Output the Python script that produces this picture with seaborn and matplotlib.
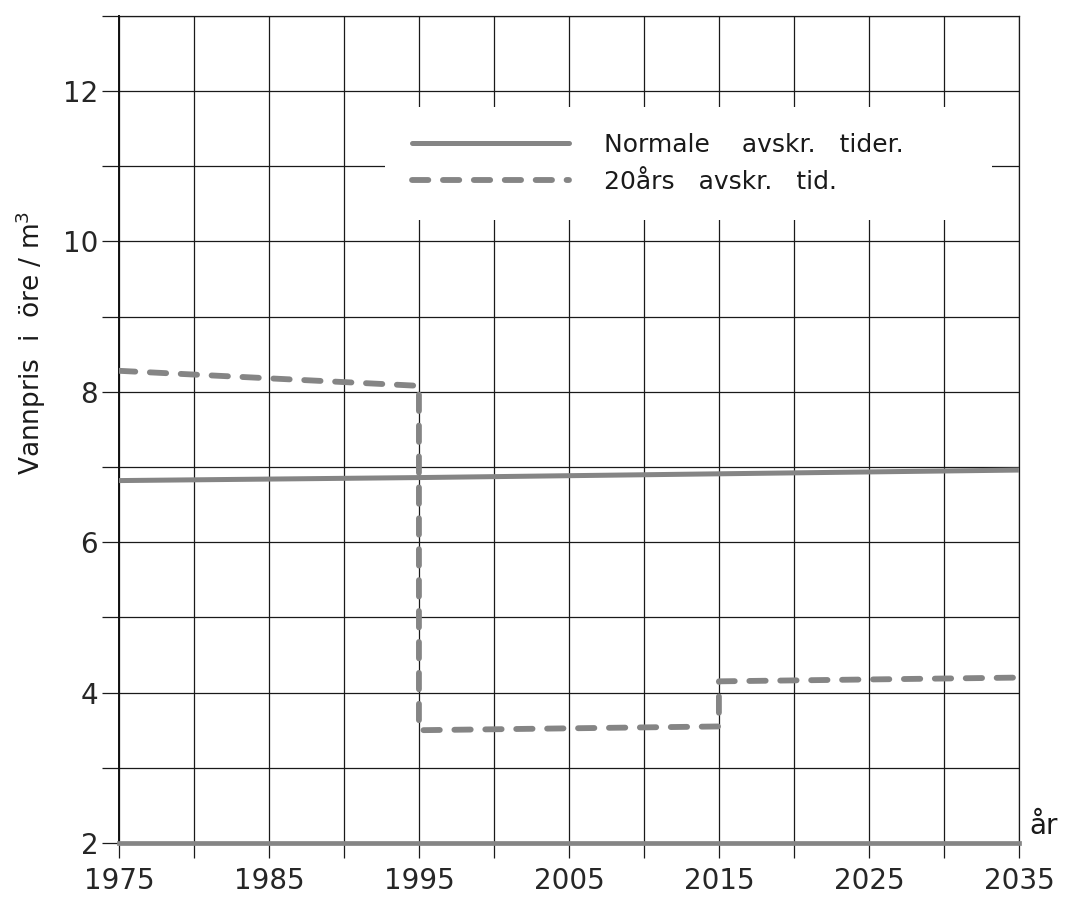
import matplotlib
matplotlib.use("Agg")
import matplotlib.pyplot as plt
import seaborn as sns
import pandas as pd

# ── data ────────────────────────────────────────────────────────────────────
normal_year  = [1975, 1995, 2015, 2035]
normal_price = [6.82, 6.86, 6.91, 6.96]

dep20_year  = [1975, 1995, 1995, 2015, 2015, 2035]
dep20_price = [8.28, 8.08, 3.50, 3.55, 4.15, 4.20]

label_normal = "Normale    avskr.   tider."
label_dep20  = "20års   avskr.   tid."

x_ticks  = list(range(1975, 2036, 5))
x_labels = [str(t) if (t - 1975) % 10 == 0 else "" for t in x_ticks]
y_ticks  = list(range(2, 14))
y_labels = [str(t) if t % 2 == 0 and t <= 12 else "" for t in y_ticks]

df_normal = pd.DataFrame({"year": normal_year, "price": normal_price})
df_dep20  = pd.DataFrame({"year": dep20_year, "price": dep20_price})

sns.set_style("white")
plt.rcParams["font.family"] = ["DejaVu Sans"]

fig = plt.figure(figsize=(10.65, 8.99), dpi=100)
ax = fig.add_axes([0.1117, 0.0623, 0.845, 0.92])

line_col = "#858585"
sns.lineplot(data=df_normal, x="year", y="price", ax=ax, color=line_col,
             lw=3.6, estimator=None, sort=False, label=label_normal, zorder=3)
sns.lineplot(data=df_dep20, x="year", y="price", ax=ax, color=line_col,
             lw=4.2, estimator=None, sort=False, label=label_dep20, zorder=3,
             dashes=False)
ax.lines[1].set_dashes([2.8, 2.5])
ax.lines[1].set_dash_capstyle("round")

# ── axes, grid, ticks ───────────────────────────────────────────────────────
ax.set_xlim(1975, 2035)
ax.set_ylim(2, 13)
ax.set_xticks(x_ticks)
ax.set_xticklabels(x_labels)
ax.set_yticks(y_ticks)
ax.set_yticklabels(y_labels)
ax.grid(True, color="#1a1a1a", lw=0.9)
ax.set_axisbelow(True)
ax.tick_params(axis="x", direction="out", length=11, width=0.9, color="#1a1a1a",
               pad=6, labelsize=20)
ax.tick_params(axis="y", direction="out", length=12, width=0.9, color="#1a1a1a",
               pad=3, labelsize=20)
ax.tick_params(left=True, bottom=True)

for side in ["top", "right"]:
    ax.spines[side].set_color("#1a1a1a")
    ax.spines[side].set_linewidth(0.9)
ax.spines["left"].set_color("#111111")
ax.spines["left"].set_linewidth(1.4)
ax.spines["bottom"].set_color(line_col)
ax.spines["bottom"].set_linewidth(3.4)

ax.set_xlabel("")
ax.set_ylabel(r"Vannpris  i  öre / m$^3$", fontsize=19, color="#1a1a1a")
ax.yaxis.set_label_coords(-0.079, 0.605)

ax.text(1.012, 0.004, "år", transform=ax.transAxes, ha="left", va="bottom",
        fontsize=20, color="#1a1a1a")

# ── legend: white box hiding the grid ───────────────────────────────────────
leg = ax.legend(loc="upper left", bbox_to_anchor=(0.296, 0.79, 0.674, 0.1),
                mode="expand", borderaxespad=0, frameon=True, fancybox=False,
                facecolor="white", edgecolor="none", framealpha=1,
                fontsize=18, handlelength=6.3, handletextpad=1.4,
                labelspacing=0.5, borderpad=1.05)
for t in leg.get_texts():
    t.set_color("#1a1a1a")

fig.savefig("out.png", dpi=100)
